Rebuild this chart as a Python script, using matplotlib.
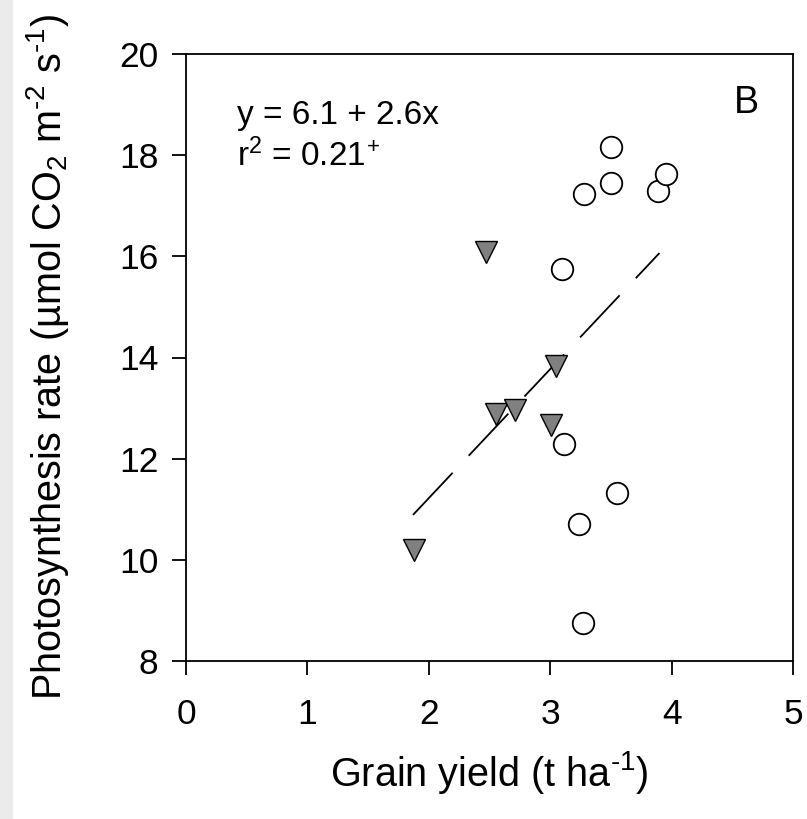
import numpy as np
import matplotlib
matplotlib.use('Agg')
import matplotlib.pyplot as plt
from matplotlib.patches import Rectangle

plt.rcParams['font.family'] = ['Liberation Sans', 'DejaVu Sans']
plt.rcParams['mathtext.fontset'] = 'custom'
plt.rcParams['mathtext.rm'] = 'Liberation Sans'
plt.rcParams['mathtext.it'] = 'Liberation Sans:italic'
plt.rcParams['axes.unicode_minus'] = False

# triangles (grey)
tri_x = [1.88, 2.47, 2.55, 2.71, 3.05, 3.01]
tri_y = [10.20, 16.08, 12.89, 12.96, 13.84, 12.66]

# circles (open)
circ_x = [3.27, 3.24, 3.55, 3.11, 3.10, 3.28, 3.50, 3.50, 3.89, 3.95]
circ_y = [8.76, 10.71, 11.33, 12.29, 15.75, 17.23, 18.17, 17.44, 17.30, 17.63]

# regression line as drawn
fit_a = 6.12
fit_b = 2.55
fit_x = [1.87, 3.90]

W, H = 807, 819
fig = plt.figure(figsize=(W / 100, H / 100), dpi=100)
fig.patches.append(Rectangle((0, 0), 12 / W, 1, transform=fig.transFigure,
                             color='#ebebeb', zorder=0))

ax = fig.add_axes([186 / W, 1 - 661 / H, 607 / W, 607 / H])

fx = np.array(fit_x)
ax.plot(fx, fit_a + fit_b * fx, color='black', lw=1.3, dashes=(32, 13), zorder=2)

ax.plot(tri_x, tri_y, 'v', ms=15.5, mfc='#808080', mec='black', mew=1.0,
        linestyle='none', zorder=3)
ax.plot(circ_x, circ_y, 'o', ms=15.5, mfc='white', mec='black', mew=1.3,
        linestyle='none', zorder=3)

ax.set_xlim(0, 5)
ax.set_ylim(8, 20)
ax.set_xticks([0, 1, 2, 3, 4, 5])
ax.set_yticks([8, 10, 12, 14, 16, 18, 20])
ax.tick_params(direction='out', length=10, width=1.3, labelsize=25.5,
               top=False, right=False)
ax.tick_params(axis='x', pad=17)
ax.tick_params(axis='y', pad=10)
for s in ax.spines.values():
    s.set_linewidth(1.3)

hy = '\u2010'
fig.text(489.5 / W, 1 - 786 / H, 'Grain yield (t ha$^{' + hy + '1}$)',
         fontsize=28.5, ha='center', va='baseline')
fig.text(61 / W, 1 - 357 / H,
         'Photosynthesis rate (µmol CO$_2$ m$^{' + hy + '2}$ s$^{' + hy + '1}$)',
         fontsize=28.5, rotation=90, rotation_mode='anchor',
         ha='center', va='baseline')

ax.text(0.084, 0.885, 'y = 6.1 + 2.6x', transform=ax.transAxes, fontsize=24,
        va='baseline')
r2 = ax.text(0.084, 0.815, r'r$^2$ = 0.21', transform=ax.transAxes, fontsize=24,
             va='baseline')
ax.annotate('+', xy=(1, 1), xycoords=r2, xytext=(1, 1), textcoords='offset points',
            fontsize=16, ha='left', va='top')
ax.text(0.944, 0.903, 'B', transform=ax.transAxes, fontsize=27, ha='right',
        va='baseline')

fig.savefig('out.png', dpi=100)
